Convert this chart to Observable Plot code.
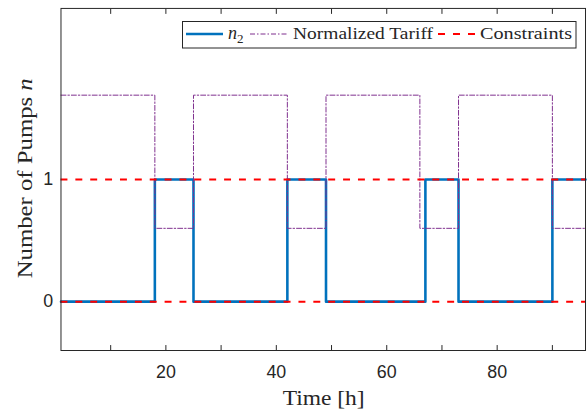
<!DOCTYPE html>
<html><head><meta charset="utf-8">
<script src="https://cdn.jsdelivr.net/npm/d3@7"></script>
<script src="https://cdn.jsdelivr.net/npm/@observablehq/plot@0.6"></script>
<style>
html,body{margin:0;padding:0;background:#fff;overflow:hidden;}
#wrap{position:relative;width:587px;height:412px;overflow:hidden;background:#fff;}
#wrap svg{position:absolute;left:0;top:0;}
</style></head><body><div id="wrap"></div>
<script>
// ---- data ----
const n2Times = [1, 18, 25, 42, 49, 67, 73, 90, 96];
const n2Values = [0, 1, 0, 1, 0, 1, 0, 1, 1];
const tariffTimes = [1, 18, 25, 42, 49, 66, 73, 90, 96];
const tariffValues = [1.69, 0.6, 1.69, 0.6, 1.69, 0.6, 1.69, 0.6, 0.6];
const constraintLevels = [0, 1];
const xTickLabels = [20, 40, 60, 80];
const xMinorTicks = [10, 20, 30, 40, 50, 60, 70, 80, 90];
const yTickLabels = [0, 1];
const seriesNames = ["n2", "Normalized Tariff", "Constraints"];

const n2 = n2Times.map((t, i) => ({t, v: n2Values[i]}));
const tariff = tariffTimes.map((t, i) => ({t, v: tariffValues[i]}));

const W = 592, H = 412;
const axisColor = "#262626";
const plot = Plot.plot({
  width: W, height: H,
  marginLeft: 61, marginRight: 2, marginTop: 8, marginBottom: 59,
  x: {domain: [1, 96]},
  y: {domain: [-0.4, 2.4]},
  style: {fontFamily: "'Liberation Sans', Arial, sans-serif", fontSize: "18px", color: axisColor, background: "transparent"},
  marks: [
    Plot.line(n2, {x: "t", y: "v", curve: "step-after", stroke: "#0072BD", strokeWidth: 2.6}),
    Plot.line(tariff, {x: "t", y: "v", curve: "step-after", stroke: "#7E2F8E", strokeWidth: 1, strokeDasharray: "5,2,1.5,2"}),
    Plot.ruleY(constraintLevels, {stroke: "#FF0000", strokeWidth: 2, strokeDasharray: "7,8"}),
    Plot.frame({stroke: axisColor, strokeWidth: 1}),
    Plot.axisX({anchor: "bottom", ticks: xMinorTicks, tickSize: 5, dy: -5, tickFormat: () => "", label: null, stroke: axisColor}),
    Plot.axisX({anchor: "top", ticks: xMinorTicks, tickSize: 5, dy: 5, tickFormat: () => "", label: null, stroke: axisColor}),
    Plot.axisX({anchor: "bottom", ticks: xTickLabels, tickSize: 0, tickPadding: 15, tickFormat: d3.format("d"), label: null, fill: axisColor}),
    Plot.axisY({anchor: "left", ticks: yTickLabels, tickSize: 0, tickPadding: 8, tickFormat: d3.format("d"), label: null, fill: axisColor})
  ]
});
const wrap = document.getElementById("wrap");
wrap.appendChild(plot);

// ---- overlay: axis titles and legend ----
const ov = d3.select(wrap).append("svg").attr("width", 587).attr("height", 412)
  .attr("font-family", "Liberation Serif, serif").style("fill", axisColor);

ov.append("text").attr("x", 282.7).attr("y", 404.5).attr("font-size", 22)
  .attr("textLength", 82).attr("lengthAdjust", "spacingAndGlyphs").text("Time [h]");

const yl = ov.append("text").attr("transform", "translate(31.5,278.3) rotate(-90)").attr("font-size", 22)
  .attr("textLength", 200).attr("lengthAdjust", "spacingAndGlyphs");
yl.append("tspan").text("Number of Pumps ");
yl.append("tspan").attr("font-style", "italic").text("n");

// legend
const lg = ov.append("g");
lg.append("rect").attr("x", 182.5).attr("y", 21.5).attr("width", 393.5).attr("height", 26.5)
  .attr("fill", "#fff").attr("stroke", axisColor).attr("stroke-width", 1);
lg.append("line").attr("x1", 186).attr("x2", 223).attr("y1", 34).attr("y2", 34)
  .attr("stroke", "#0072BD").attr("stroke-width", 2.6);
const t1 = lg.append("text").attr("x", 228).attr("y", 39).attr("font-size", 18);
t1.append("tspan").attr("font-style", "italic").text("n");
t1.append("tspan").attr("font-size", 13).attr("dy", 4).text("2");
lg.append("line").attr("x1", 250).attr("x2", 287).attr("y1", 34).attr("y2", 34)
  .attr("stroke", "#7E2F8E").attr("stroke-width", 1).attr("stroke-dasharray", "5,2,1.5,2");
lg.append("text").attr("x", 293).attr("y", 39).attr("font-size", 17.5)
  .attr("textLength", 140).attr("lengthAdjust", "spacingAndGlyphs").text(seriesNames[1]);
lg.append("line").attr("x1", 438).attr("x2", 477).attr("y1", 34).attr("y2", 34)
  .attr("stroke", "#FF0000").attr("stroke-width", 2).attr("stroke-dasharray", "7,8");
lg.append("text").attr("x", 480).attr("y", 39).attr("font-size", 17.5)
  .attr("textLength", 92).attr("lengthAdjust", "spacingAndGlyphs").text(seriesNames[2]);
</script>
</body></html>
